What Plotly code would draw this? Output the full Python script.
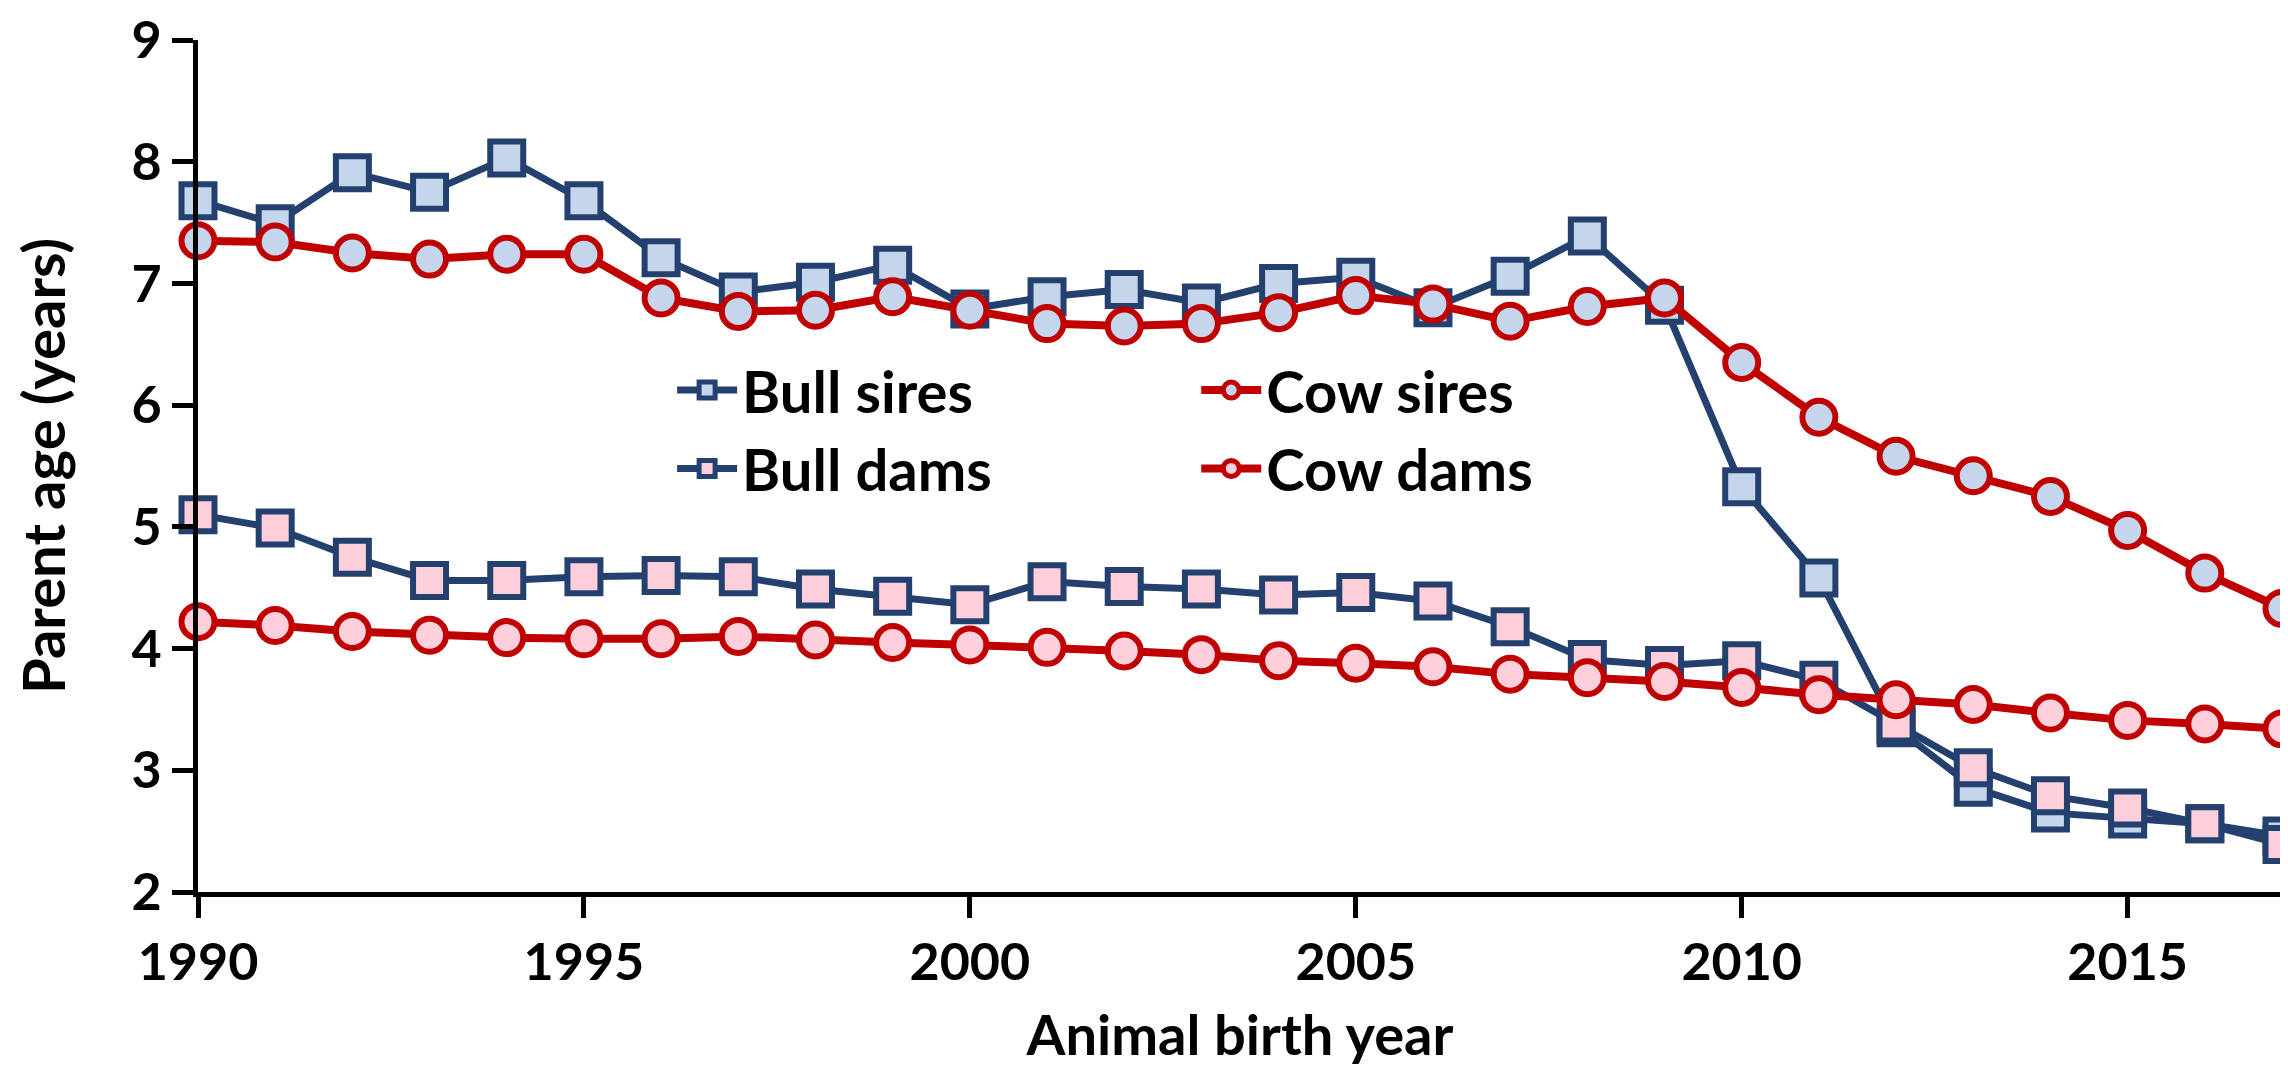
import plotly.graph_objects as go

years = list(range(1990, 2018))

bull_sires = [7.68, 7.49, 7.91, 7.75, 8.03, 7.68, 7.21, 6.93, 7.01, 7.15,
              6.79, 6.89, 6.95, 6.84, 7.00, 7.05, 6.80, 7.06, 7.39, 6.82,
              5.33, 4.58, 3.35, 2.86, 2.65, 2.60, 2.56, 2.46]
bull_dams = [5.10, 4.99, 4.75, 4.56, 4.56, 4.59, 4.60, 4.59, 4.49, 4.43,
             4.36, 4.55, 4.51, 4.49, 4.44, 4.46, 4.39, 4.18, 3.91, 3.86,
             3.90, 3.74, 3.38, 3.02, 2.79, 2.69, 2.56, 2.39]
cow_sires = [7.35, 7.34, 7.25, 7.20, 7.24, 7.24, 6.88, 6.77, 6.78, 6.89,
             6.78, 6.67, 6.65, 6.67, 6.76, 6.90, 6.83, 6.69, 6.81, 6.88,
             6.35, 5.90, 5.58, 5.42, 5.25, 4.97, 4.62, 4.33]
cow_dams = [4.22, 4.19, 4.14, 4.11, 4.09, 4.08, 4.08, 4.10, 4.07, 4.05,
            4.03, 4.01, 3.98, 3.95, 3.90, 3.88, 3.85, 3.79, 3.76, 3.73,
            3.68, 3.62, 3.58, 3.54, 3.47, 3.41, 3.38, 3.34]

x_ticks = [1990, 1995, 2000, 2005, 2010, 2015]
y_ticks = [2, 3, 4, 5, 6, 7, 8, 9]

NAVY = "#24406E"
RED = "#C00000"
LBLUE = "#C5D5EC"
PINK = "#FDD0DC"
FONT = "Lato"

fig = go.Figure()

def add(name, y, symbol, lcolor, fill, lw, legend):
    fig.add_trace(go.Scatter(
        x=years, y=y, name=name, mode="lines+markers", cliponaxis=False,
        line=dict(color=lcolor, width=lw),
        marker=dict(symbol=symbol, size=33, color=fill,
                    line=dict(color=lcolor, width=6)),
        legend=legend,
    ))

add("Bull sires", bull_sires, "square", NAVY, LBLUE, 7, "legend")
add("Bull dams", bull_dams, "square", NAVY, PINK, 7, "legend")
add("Cow sires", cow_sires, "circle", RED, LBLUE, 8, "legend2")
add("Cow dams", cow_dams, "circle", RED, PINK, 8, "legend2")

legfont = dict(family=FONT, size=58, color="black", weight=700)
fig.update_layout(
    width=2288, height=1071,
    margin=dict(l=190, r=14, t=32, b=187),
    paper_bgcolor="white", plot_bgcolor="white",
    font=dict(family=FONT, color="black", weight=700),
    legend=dict(x=0.2275, y=0.641, xanchor="left", yanchor="top",
                bgcolor="rgba(0,0,0,0)", font=legfont, itemwidth=60,
                tracegroupgap=0),
    legend2=dict(x=0.479, y=0.641, xanchor="left", yanchor="top",
                 bgcolor="rgba(0,0,0,0)", font=legfont, itemwidth=60,
                 tracegroupgap=0),
)
fig.update_xaxes(
    range=[1990, 2017], tickvals=x_ticks, showgrid=False, zeroline=False,
    showline=True, linecolor="black", linewidth=5,
    ticks="outside", ticklen=21, tickwidth=5, tickcolor="black",
    ticklabeloverflow="allow", automargin=False,
    tickfont=dict(family=FONT, size=52, color="black", weight=700),
    title=dict(text="Animal birth year", standoff=27,
               font=dict(family=FONT, size=56, color="black", weight=700)),
)
fig.update_yaxes(
    range=[2, 9], tickvals=y_ticks, showgrid=False, zeroline=False,
    showline=True, linecolor="black", linewidth=5,
    ticks="outside", ticklen=21, tickwidth=5, tickcolor="black",
    ticklabeloverflow="allow", automargin=False,
    tickfont=dict(family=FONT, size=52, color="black", weight=700),
    title=dict(text="Parent age (years)", standoff=55,
               font=dict(family=FONT, size=58, color="black", weight=700)),
)

fig.write_html("out.html")
